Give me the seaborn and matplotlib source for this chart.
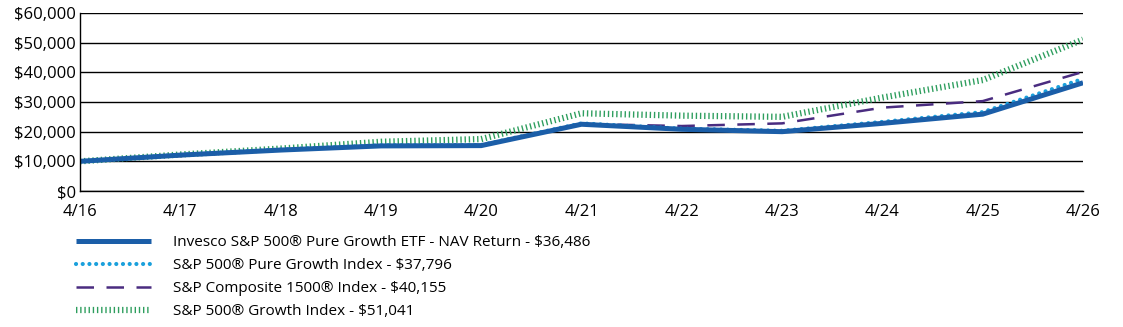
import matplotlib
matplotlib.use("Agg")
import matplotlib.pyplot as plt
import seaborn as sns
import pandas as pd
import numpy as np
from matplotlib.lines import Line2D

periods = ["4/16", "4/17", "4/18", "4/19", "4/20", "4/21", "4/22", "4/23", "4/24", "4/25", "4/26"]
etf = [10000, 12100, 13800, 15200, 15300, 22500, 20800, 20000, 22800, 25900, 36486]
pure_growth = [10000, 12200, 14000, 15400, 15500, 22800, 21000, 20300, 23300, 26600, 37796]
composite_1500 = [10000, 11800, 13700, 15200, 15500, 22600, 21900, 22800, 28100, 30300, 40155]
sp500_growth = [10000, 12300, 14300, 16600, 17500, 26200, 25400, 25000, 31500, 37400, 51041]

labels = [
    "Invesco S&P 500\u00ae Pure Growth ETF - NAV Return - $36,486",
    "S&P 500\u00ae Pure Growth Index - $37,796",
    "S&P Composite 1500\u00ae Index - $40,155",
    "S&P 500\u00ae Growth Index - $51,041",
]
y_ticks = [0, 10000, 20000, 30000, 40000, 50000, 60000]

sns.set_theme(style="white")
plt.rcParams["font.family"] = ["Open Sans", "DejaVu Sans"]

fig = plt.figure(figsize=(11.23, 3.27), dpi=100)
ax = fig.add_axes([0.0712, 0.4159, 0.8932, 0.5443])

x = np.arange(len(periods))
styles = [
    dict(color="#2e9e5e", lw=4.5, ls=(0, (0.22, 0.45)), solid_capstyle="butt", dash_capstyle="butt"),
    dict(color="#4a2c80", lw=1.8, ls=(0, (7, 5)), dash_capstyle="butt"),
    dict(color="#1aa0dc", lw=3.0, ls=(0, (0.01, 1.6)), dash_capstyle="round"),
    dict(color="#1b5ea8", lw=3.6, ls="-", solid_capstyle="butt"),
]
series = [sp500_growth, composite_1500, pure_growth, etf]
for vals, st in zip(series, styles):
    df = pd.DataFrame({"x": x, "v": vals})
    sns.lineplot(data=df, x="x", y="v", ax=ax, color=st["color"], linewidth=st["lw"],
                 linestyle=st["ls"], legend=False)
    ln = ax.lines[-1]
    if "dash_capstyle" in st:
        ln.set_dash_capstyle(st["dash_capstyle"])
    if "solid_capstyle" in st:
        ln.set_solid_capstyle(st["solid_capstyle"])

ax.set_xlim(0, len(periods) - 1)
ax.set_ylim(0, 60000)
ax.set_xticks(x)
ax.set_xticklabels(periods)
ax.set_yticks(y_ticks)
ax.set_yticklabels(["${:,}".format(v) for v in y_ticks])
ax.set_xlabel("")
ax.set_ylabel("")
ax.grid(axis="y", color="black", linewidth=1.0)
ax.set_axisbelow(True)
for s in ["top", "right"]:
    ax.spines[s].set_visible(False)
for s in ["left", "bottom"]:
    ax.spines[s].set_color("black")
    ax.spines[s].set_linewidth(1.0)
ax.tick_params(axis="x", direction="out", length=7, width=1, color="black", labelsize=12, pad=2, labelcolor="black")
ax.tick_params(axis="y", length=0, labelsize=12, pad=3, labelcolor="black")

handles = [
    Line2D([], [], color="#1b5ea8", lw=3.6, ls="-", solid_capstyle="butt"),
    Line2D([], [], color="#1aa0dc", lw=3.0, ls=(0, (0.01, 1.6)), dash_capstyle="round"),
    Line2D([], [], color="#4a2c80", lw=1.8, ls=(0, (7, 5)), dash_capstyle="butt"),
    Line2D([], [], color="#2e9e5e", lw=4.5, ls=(0, (0.22, 0.45)), dash_capstyle="butt"),
]
fig.legend(handles, labels, loc="upper left", bbox_to_anchor=(0.068, 0.281), frameon=False,
           fontsize=11, handlelength=4.9, handletextpad=1.4, labelspacing=0.52,
           borderaxespad=0, borderpad=0, labelcolor="black")

fig.savefig("out.png", dpi=100)
